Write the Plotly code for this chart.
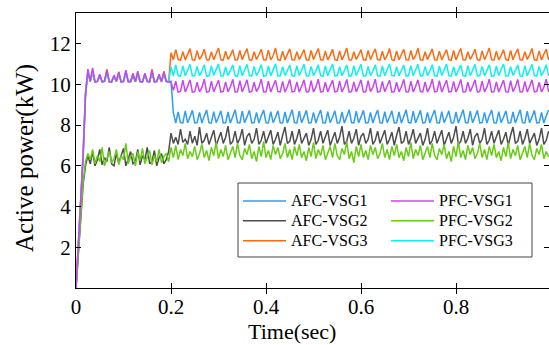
import plotly.graph_objects as go

# ---- data (kW), sampled every 5 ms from t = 0 ----
dt = 0.005

AFC_VSG1 = [
    0, 2.0, 4.2, 6.4, 9.4, 10.6, 10.13, 10.55, 10.12, 10.14,
    10.4, 10.12, 10.15, 10.55, 10.13, 10.12, 10.4, 10.14, 10.5, 10.12,
    10.15, 10.55, 10.13, 10.12, 10.4, 10.14, 10.5, 10.12, 10.13, 10.45,
    10.14, 10.12, 10.55, 10.13, 10.15, 10.4, 10.12, 10.5, 10.13, 10.12,
    10.15, 8.6, 8.1, 8.65, 8.12, 8.1, 8.7, 8.11, 8.4, 8.72,
    8.1, 8.12, 8.62, 8.1, 8.45, 8.74, 8.11, 8.1, 8.66, 8.12,
    8.38, 8.7, 8.1, 8.11, 8.64, 8.1, 8.42, 8.75, 8.12, 8.1,
    8.68, 8.11, 8.4, 8.72, 8.1, 8.12, 8.62, 8.1, 8.45, 8.74,
    8.11, 8.1, 8.66, 8.12, 8.38, 8.7, 8.1, 8.11, 8.64, 8.1,
    8.42, 8.75, 8.12, 8.1, 8.68, 8.11, 8.4, 8.72, 8.1, 8.12,
    8.62, 8.1, 8.45, 8.74, 8.11, 8.1, 8.66, 8.12, 8.38, 8.7,
    8.1, 8.11, 8.64, 8.1, 8.42, 8.75, 8.12, 8.1, 8.68, 8.11,
    8.4, 8.72, 8.1, 8.12, 8.62, 8.1, 8.45, 8.74, 8.11, 8.1,
    8.66, 8.12, 8.38, 8.7, 8.1, 8.11, 8.64, 8.1, 8.42, 8.75,
    8.12, 8.1, 8.68, 8.11, 8.4, 8.72, 8.1, 8.12, 8.62, 8.1,
    8.45, 8.74, 8.11, 8.1, 8.66, 8.12, 8.38, 8.7, 8.1, 8.11,
    8.64, 8.1, 8.42, 8.75, 8.12, 8.1, 8.68, 8.11, 8.4, 8.72,
    8.1, 8.12, 8.62, 8.1, 8.45, 8.74, 8.11, 8.1, 8.66, 8.12,
    8.38, 8.7, 8.1, 8.11, 8.64, 8.1, 8.42, 8.75, 8.12, 8.1,
    8.68, 8.11, 8.4, 8.72, 8.1, 8.12, 8.62, 8.1, 8.45, 8.74,
]

AFC_VSG2 = [
    0, 1.7, 3.8, 5.1, 6.0, 6.5, 6.1, 6.7, 6.0, 6.3,
    6.8, 6.05, 6.4, 6.2, 6.9, 6.1, 6.0, 6.6, 6.15, 6.45,
    6.85, 6.0, 6.3, 6.7, 6.1, 6.2, 6.8, 6.05, 6.5, 6.3,
    6.9, 6.1, 6.2, 6.75, 6.0, 6.4, 6.6, 6.1, 6.3, 6.7,
    7.6, 7.1, 7.4, 7.05, 7.8, 7.15, 7.3, 7.05, 7.7, 7.1,
    7.45, 7.0, 7.9, 7.1, 7.25, 7.6, 7.05, 7.35, 7.75, 7.0,
    7.3, 7.65, 7.1, 7.4, 7.95, 7.05, 7.2, 7.7, 7.1, 7.35,
    7.8, 7.0, 7.45, 7.6, 7.1, 7.3, 7.85, 7.05, 7.25, 7.7,
    7.1, 7.4, 7.75, 7.05, 7.3, 7.65, 7.0, 7.5, 7.9, 7.1,
    7.2, 7.7, 7.05, 7.35, 7.8, 7.1, 7.4, 7.6, 7.0, 7.3,
    7.85, 7.05, 7.25, 7.7, 7.1, 7.45, 7.75, 7.0, 7.3, 7.65,
    7.1, 7.4, 7.95, 7.05, 7.2, 7.7, 7.1, 7.35, 7.8, 7.0,
    7.45, 7.6, 7.1, 7.3, 7.85, 7.05, 7.25, 7.7, 7.1, 7.4,
    7.75, 7.05, 7.3, 7.65, 7.0, 7.5, 7.9, 7.1, 7.2, 7.7,
    7.05, 7.35, 7.8, 7.1, 7.4, 7.6, 7.0, 7.3, 7.85, 7.05,
    7.25, 7.7, 7.1, 7.45, 7.75, 7.0, 7.3, 7.65, 7.1, 7.4,
    7.95, 7.05, 7.2, 7.7, 7.1, 7.35, 7.8, 7.0, 7.45, 7.6,
    7.1, 7.3, 7.85, 7.05, 7.25, 7.7, 7.1, 7.4, 7.75, 7.05,
    7.3, 7.65, 7.0, 7.5, 7.9, 7.1, 7.2, 7.7, 7.05, 7.35,
    7.8, 7.1, 7.4, 7.6, 7.0, 7.3, 7.85, 7.05, 7.25, 7.7,
]

AFC_VSG3 = [
    0, 2.1, 4.4, 6.6, 9.6, 10.6, 10.15, 10.7, 10.12, 10.14,
    10.45, 10.13, 10.15, 10.75, 10.13, 10.12, 10.4, 10.15, 10.62, 10.12,
    10.14, 10.65, 10.13, 10.15, 10.55, 10.12, 10.6, 10.14, 10.12, 10.5,
    10.15, 10.13, 10.75, 10.12, 10.14, 10.45, 10.13, 10.65, 10.15, 10.12,
    11.55, 11.2, 11.7, 11.22, 11.18, 11.6, 11.2, 11.45, 11.75, 11.2,
    11.18, 11.65, 11.22, 11.4, 11.72, 11.2, 11.19, 11.6, 11.2, 11.5,
    11.78, 11.2, 11.18, 11.62, 11.22, 11.42, 11.7, 11.19, 11.2, 11.66,
    11.2, 11.5, 11.75, 11.2, 11.18, 11.6, 11.22, 11.45, 11.72, 11.2,
    11.19, 11.68, 11.2, 11.4, 11.78, 11.21, 11.18, 11.62, 11.2, 11.48,
    11.74, 11.2, 11.19, 11.6, 11.21, 11.45, 11.7, 11.2, 11.18, 11.66,
    11.22, 11.5, 11.76, 11.2, 11.19, 11.62, 11.2, 11.42, 11.72, 11.21,
    11.18, 11.64, 11.2, 11.46, 11.78, 11.2, 11.19, 11.6, 11.22, 11.44,
    11.7, 11.2, 11.18, 11.66, 11.21, 11.5, 11.74, 11.2, 11.19, 11.62,
    11.2, 11.42, 11.76, 11.21, 11.18, 11.64, 11.2, 11.46, 11.72, 11.2,
    11.19, 11.66, 11.22, 11.4, 11.78, 11.2, 11.18, 11.6, 11.21, 11.48,
    11.74, 11.2, 11.19, 11.62, 11.2, 11.45, 11.7, 11.21, 11.18, 11.66,
    11.2, 11.5, 11.76, 11.2, 11.19, 11.6, 11.22, 11.44, 11.72, 11.2,
    11.18, 11.64, 11.21, 11.46, 11.78, 11.2, 11.19, 11.62, 11.2, 11.42,
    11.7, 11.21, 11.18, 11.66, 11.2, 11.5, 11.74, 11.2, 11.19, 11.6,
    11.22, 11.45, 11.76, 11.2, 11.18, 11.64, 11.2, 11.48, 11.72, 11.2,
]

PFC_VSG1 = [
    0, 2.0, 4.3, 6.5, 9.5, 10.75, 10.15, 10.8, 10.12, 10.14,
    10.5, 10.12, 10.15, 10.7, 10.13, 10.12, 10.45, 10.15, 10.6, 10.12,
    10.14, 10.7, 10.13, 10.15, 10.5, 10.12, 10.65, 10.14, 10.12, 10.55,
    10.15, 10.13, 10.7, 10.12, 10.14, 10.5, 10.13, 10.6, 10.15, 10.12,
    10.1, 9.7, 10.15, 9.62, 9.65, 10.2, 9.63, 9.9, 10.22, 9.62,
    9.64, 10.1, 9.63, 9.85, 10.25, 9.62, 9.64, 10.15, 9.63, 9.92,
    10.2, 9.62, 9.65, 10.12, 9.63, 9.88, 10.24, 9.62, 9.64, 10.18,
    9.63, 9.9, 10.22, 9.62, 9.65, 10.1, 9.64, 9.86, 10.25, 9.62,
    9.63, 10.16, 9.62, 9.92, 10.2, 9.64, 9.63, 10.14, 9.62, 9.88,
    10.24, 9.63, 9.65, 10.12, 9.62, 9.9, 10.22, 9.63, 9.64, 10.18,
    9.62, 9.86, 10.25, 9.63, 9.64, 10.1, 9.62, 9.92, 10.2, 9.63,
    9.65, 10.16, 9.62, 9.88, 10.24, 9.62, 9.64, 10.12, 9.63, 9.9,
    10.22, 9.62, 9.63, 10.18, 9.64, 9.86, 10.25, 9.62, 9.65, 10.14,
    9.63, 9.92, 10.2, 9.62, 9.64, 10.1, 9.63, 9.88, 10.24, 9.62,
    9.63, 10.16, 9.62, 9.9, 10.22, 9.64, 9.63, 10.12, 9.62, 9.86,
    10.25, 9.63, 9.65, 10.18, 9.62, 9.92, 10.2, 9.63, 9.64, 10.14,
    9.62, 9.88, 10.24, 9.62, 9.63, 10.1, 9.64, 9.9, 10.22, 9.62,
    9.65, 10.16, 9.63, 9.86, 10.25, 9.62, 9.64, 10.12, 9.62, 9.92,
    10.2, 9.63, 9.62, 10.18, 9.64, 9.88, 10.24, 9.62, 9.63, 10.14,
    9.62, 9.9, 10.22, 9.63, 9.65, 10.1, 9.62, 9.86, 10.25, 9.63,
]

PFC_VSG2 = [
    0, 1.8, 3.9, 5.2, 6.2, 6.6, 6.3, 6.8, 6.1, 6.5,
    6.2, 6.9, 6.0, 6.4, 6.7, 6.15, 6.35, 6.8, 6.05, 6.5,
    6.3, 7.1, 6.1, 6.45, 6.6, 6.0, 6.7, 6.25, 6.85, 6.1,
    6.4, 6.75, 6.05, 6.5, 6.2, 6.8, 6.15, 6.45, 6.6, 6.2,
    6.9, 6.4, 7.0, 6.3, 6.8, 6.5, 7.1, 6.35, 6.7, 6.45,
    6.95, 6.3, 6.6, 7.05, 6.4, 6.75, 6.25, 6.9, 6.5, 7.15,
    6.35, 6.8, 6.45, 7.0, 6.3, 6.65, 6.95, 6.4, 7.1, 6.5,
    6.3, 6.85, 6.55, 7.05, 6.35, 6.7, 6.2, 6.95, 6.45, 7.2,
    6.4, 6.75, 6.3, 7.0, 6.55, 6.9, 6.35, 6.6, 7.1, 6.4,
    6.8, 6.3, 6.95, 6.5, 7.05, 6.4, 6.7, 6.25, 6.9, 6.45,
    7.15, 6.35, 6.8, 6.5, 7.0, 6.3, 6.65, 6.95, 6.4, 7.1,
    6.5, 6.3, 6.85, 6.55, 7.2, 6.35, 6.7, 6.15, 6.95, 6.45,
    7.05, 6.4, 6.75, 6.3, 7.0, 6.55, 6.9, 6.35, 6.6, 7.1,
    6.4, 6.8, 6.3, 6.95, 6.5, 7.05, 6.4, 6.7, 6.25, 6.9,
    6.45, 7.15, 6.35, 6.8, 6.5, 7.0, 6.3, 6.65, 6.95, 6.4,
    7.1, 6.5, 6.3, 6.85, 6.55, 7.05, 6.35, 6.7, 6.2, 6.95,
    6.45, 7.2, 6.4, 6.75, 6.3, 7.0, 6.55, 6.9, 6.35, 6.6,
    7.1, 6.4, 6.8, 6.3, 6.95, 6.5, 7.05, 6.4, 6.7, 6.25,
    6.9, 6.45, 7.15, 6.35, 6.8, 6.5, 7.0, 6.3, 6.65, 6.95,
    6.4, 7.1, 6.5, 6.3, 6.85, 6.55, 7.05, 6.35, 6.7, 6.45,
]

PFC_VSG3 = [
    0, 2.1, 4.4, 6.6, 9.6, 10.7, 10.14, 10.6, 10.12, 10.15,
    10.45, 10.13, 10.14, 10.6, 10.12, 10.15, 10.4, 10.13, 10.55, 10.14,
    10.12, 10.6, 10.15, 10.13, 10.45, 10.12, 10.55, 10.15, 10.13, 10.5,
    10.14, 10.12, 10.6, 10.15, 10.13, 10.45, 10.12, 10.55, 10.14, 10.13,
    10.85, 10.42, 10.95, 10.43, 10.4, 10.9, 10.42, 10.7, 10.98, 10.41,
    10.43, 10.88, 10.42, 10.65, 10.96, 10.4, 10.42, 10.9, 10.43, 10.72,
    11.0, 10.41, 10.42, 10.86, 10.43, 10.68, 10.95, 10.42, 10.4, 10.92,
    10.42, 10.7, 10.98, 10.43, 10.41, 10.88, 10.42, 10.66, 10.96, 10.4,
    10.43, 10.9, 10.42, 10.72, 11.0, 10.41, 10.42, 10.86, 10.43, 10.68,
    10.95, 10.42, 10.4, 10.92, 10.43, 10.7, 10.98, 10.42, 10.41, 10.88,
    10.42, 10.66, 10.96, 10.43, 10.4, 10.9, 10.42, 10.72, 11.0, 10.41,
    10.43, 10.86, 10.42, 10.68, 10.95, 10.4, 10.42, 10.92, 10.43, 10.7,
    10.98, 10.41, 10.42, 10.88, 10.43, 10.66, 10.96, 10.42, 10.4, 10.9,
    10.42, 10.72, 11.0, 10.43, 10.41, 10.86, 10.42, 10.68, 10.95, 10.4,
    10.43, 10.92, 10.42, 10.7, 10.98, 10.41, 10.42, 10.88, 10.43, 10.66,
    10.96, 10.42, 10.4, 10.9, 10.43, 10.72, 11.0, 10.42, 10.41, 10.86,
    10.42, 10.68, 10.95, 10.43, 10.4, 10.92, 10.42, 10.7, 10.98, 10.41,
    10.43, 10.88, 10.42, 10.66, 10.96, 10.4, 10.42, 10.9, 10.43, 10.72,
    11.0, 10.41, 10.42, 10.86, 10.43, 10.68, 10.95, 10.42, 10.4, 10.92,
    10.42, 10.7, 10.98, 10.43, 10.41, 10.88, 10.42, 10.66, 10.96, 10.42,
]

x_ticks = [0, 0.2, 0.4, 0.6, 0.8]
x_tick_labels = ["0", "0.2", "0.4", "0.6", "0.8"]
y_ticks = [2, 4, 6, 8, 10, 12]
y_tick_labels = ["2", "4", "6", "8", "10", "12"]

FONT = "Liberation Serif, Times New Roman, serif"

# (name, values, colour, legend, rank) in drawing order
series = [
    ("AFC-VSG1", AFC_VSG1, "#2f9df0", "legend", 1),
    ("AFC-VSG2", AFC_VSG2, "#4d4d4d", "legend", 2),
    ("AFC-VSG3", AFC_VSG3, "#ff6a10", "legend", 3),
    ("PFC-VSG3", PFC_VSG3, "#10f0f0", "legend2", 3),
    ("PFC-VSG2", PFC_VSG2, "#66cc14", "legend2", 2),
    ("PFC-VSG1", PFC_VSG1, "#c846f0", "legend2", 1),
]

fig = go.Figure()
for name, vals, col, leg, rank in series:
    t = [round(i * dt, 4) for i in range(len(vals))]
    fig.add_trace(go.Scatter(
        x=t, y=vals, mode="lines",
        name='<span style="font-size:16px">' + name + '</span>',
        line=dict(color=col, width=1.5),
        legend=leg, legendrank=rank, showlegend=True, hoverinfo="x+y",
    ))

# invisible trace to carry the mirrored right-hand y ticks
fig.add_trace(go.Scatter(x=[None], y=[None], yaxis="y2", showlegend=False, hoverinfo="skip"))

W, H = 549, 345
L, R, T, B = 76, 0, 13, 57
pw, ph = W - L - R, H - T - B

def px_x(p):
    return (p - L) / pw

def px_y(p):
    return (H - B - p) / ph

legend_common = dict(
    xanchor="left", yanchor="top",
    bgcolor="rgba(0,0,0,0)", borderwidth=0, itemwidth=43,
    font=dict(family=FONT, size=13, color="black"), traceorder="normal",
)

fig.update_layout(
    width=W, height=H,
    margin=dict(l=L, r=R, t=T, b=B, pad=0),
    paper_bgcolor="white", plot_bgcolor="white",
    font=dict(family=FONT, size=21, color="black"),
    xaxis=dict(
        range=[0, pw / 475.0], tickvals=x_ticks, ticktext=x_tick_labels,
        ticks="inside", ticklen=5, tickwidth=1, tickcolor="black",
        showline=True, linecolor="black", linewidth=1, mirror="allticks",
        showgrid=False, zeroline=False,
        tickfont=dict(family=FONT, size=21, color="black"),
    ),
    yaxis=dict(
        range=[0, 13.5], tickvals=y_ticks, ticktext=y_tick_labels,
        ticks="inside", ticklen=5, tickwidth=1, tickcolor="black",
        showline=True, linecolor="black", linewidth=1, mirror=False,
        showgrid=False, zeroline=False,
        tickfont=dict(family=FONT, size=21, color="black"),
    ),
    yaxis2=dict(
        overlaying="y", side="right", range=[0, 13.5], tickvals=y_ticks,
        ticks="inside", ticklen=5, tickwidth=1, tickcolor="black",
        showticklabels=False, showline=False, showgrid=False, zeroline=False,
    ),
    legend=dict(x=px_x(238), y=px_y(186), **legend_common),
    legend2=dict(x=px_x(386), y=px_y(186), **legend_common),
    shapes=[dict(
        type="rect", xref="paper", yref="paper",
        x0=px_x(238), x1=px_x(532), y0=px_y(257), y1=px_y(183),
        line=dict(color="#444444", width=1), fillcolor="rgba(0,0,0,0)", layer="below",
    )],
    annotations=[
        dict(text="Time(sec)", xref="paper", yref="paper", x=px_x(292), y=px_y(331),
             xanchor="center", yanchor="middle", showarrow=False,
             font=dict(family=FONT, size=22, color="black")),
        dict(text="Active power(kW)", xref="paper", yref="paper", x=px_x(25), y=px_y(158),
             xanchor="center", yanchor="middle", showarrow=False, textangle=-90,
             font=dict(family=FONT, size=25, color="black")),
    ],
)

fig.write_html(
    "out.html",
    config={"displayModeBar": False},
    post_script="document.body.style.margin='0';document.body.style.overflow='hidden';",
)
